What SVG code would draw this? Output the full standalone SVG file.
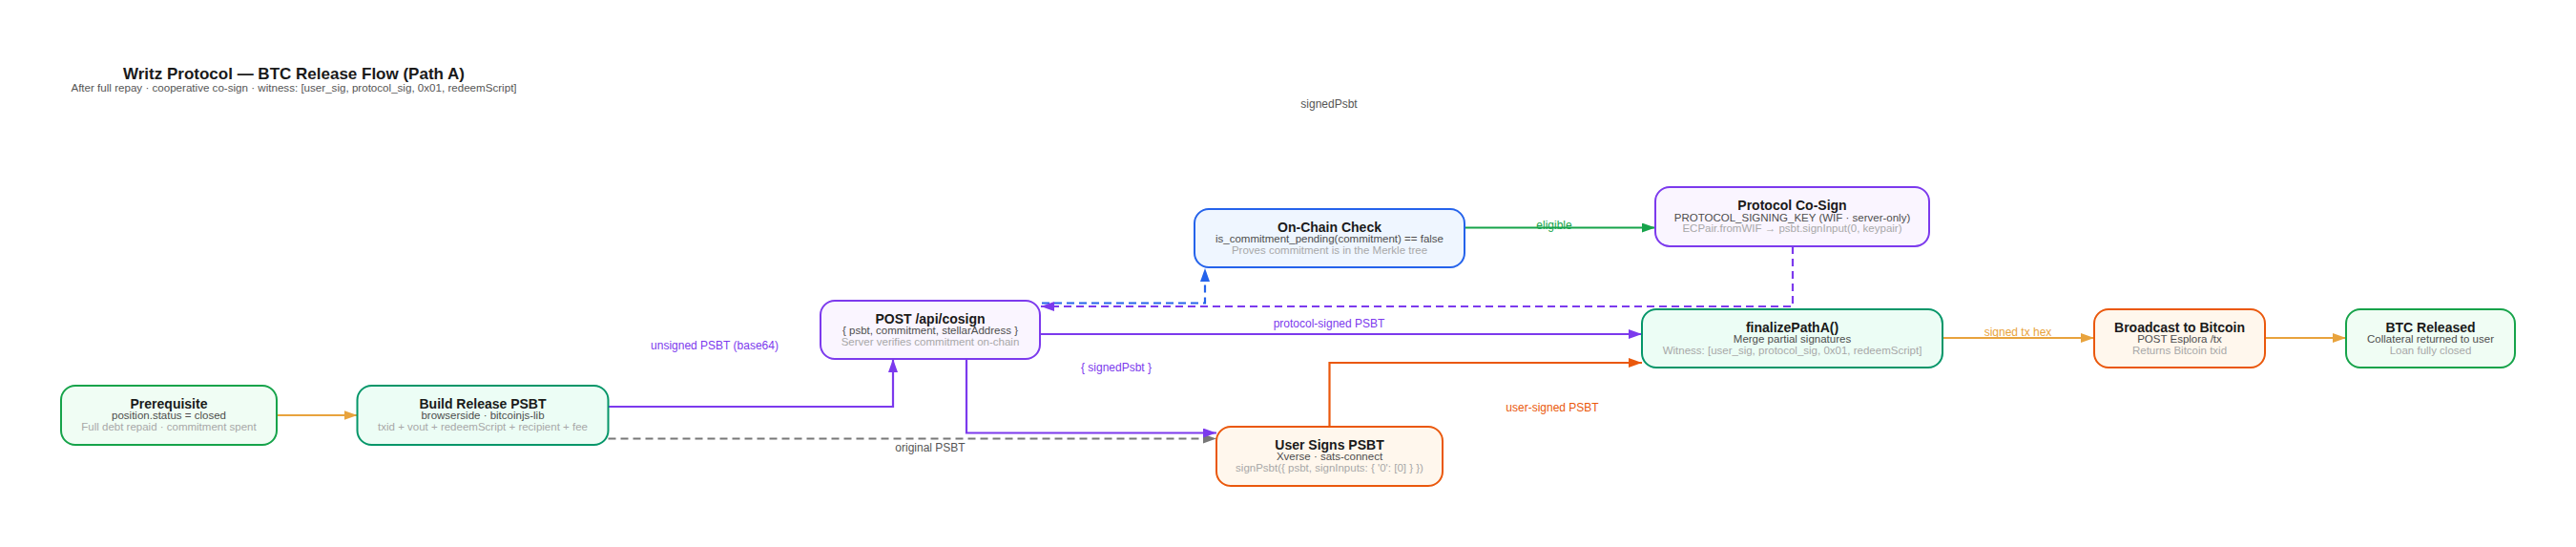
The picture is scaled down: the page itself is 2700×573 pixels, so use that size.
<svg xmlns="http://www.w3.org/2000/svg" width="2700" height="573" viewBox="0 0 2700 573">
  <defs>
    <style>
      text { font-family: "Liberation Sans", Arial, sans-serif; text-anchor: middle; }
      .ttl { font-size: 17px; font-weight: bold; fill: #1a1a1a; }
      .sub { font-size: 11.6px; fill: #555; }
      .nt { font-size: 14px; font-weight: bold; fill: #1a1a1a; }
      .n2 { font-size: 11.5px; fill: #4d4d4d; }
      .n3 { font-size: 11.5px; fill: #a8a8a8; }
      .box { stroke-width: 2; }
      .green { stroke: #16a34a; fill: #f0fdf4; }
      .teal { stroke: #059669; fill: #ecfdf5; }
      .purple { stroke: #7c3aed; fill: #faf5ff; }
      .blue { stroke: #2563eb; fill: #eff6ff; }
      .orange { stroke: #ea580c; fill: #fff7ed; }
      .e { fill: none; stroke-width: 2.2; }
      .dash { stroke-dasharray: 8 5; }
      .lbl { font-size: 12px; }
    </style>
    <marker id="ah-orange" viewBox="0 0 14 10" refX="14" refY="5" markerWidth="14" markerHeight="10" markerUnits="userSpaceOnUse" orient="auto"><path d="M0,0 L14,5 L0,10 z" fill="#e8a33d"/></marker>
    <marker id="ah-red" viewBox="0 0 14 10" refX="14" refY="5" markerWidth="14" markerHeight="10" markerUnits="userSpaceOnUse" orient="auto"><path d="M0,0 L14,5 L0,10 z" fill="#ea580c"/></marker>
    <marker id="ah-purple" viewBox="0 0 14 10" refX="14" refY="5" markerWidth="14" markerHeight="10" markerUnits="userSpaceOnUse" orient="auto"><path d="M0,0 L14,5 L0,10 z" fill="#7c3aed"/></marker>
    <marker id="ah-blue" viewBox="0 0 14 10" refX="14" refY="5" markerWidth="14" markerHeight="10" markerUnits="userSpaceOnUse" orient="auto"><path d="M0,0 L14,5 L0,10 z" fill="#2563eb"/></marker>
    <marker id="ah-green" viewBox="0 0 14 10" refX="14" refY="5" markerWidth="14" markerHeight="10" markerUnits="userSpaceOnUse" orient="auto"><path d="M0,0 L14,5 L0,10 z" fill="#16a34a"/></marker>
    <marker id="ah-gray" viewBox="0 0 14 10" refX="14" refY="5" markerWidth="14" markerHeight="10" markerUnits="userSpaceOnUse" orient="auto"><path d="M0,0 L14,5 L0,10 z" fill="#777"/></marker>
  </defs>

  <rect width="2700" height="573" fill="#ffffff"/>

  <!-- heading -->
  <g id="heading">
    <text class="ttl" x="308" y="83">Writz Protocol — BTC Release Flow (Path A)</text>
    <text class="sub" x="308" y="96">After full repay · cooperative co-sign · witness: [user_sig, protocol_sig, 0x01, redeemScript]</text>
  </g>

  <!-- connectors -->
  <g id="connectors">
    <path class="e" d="M290,435 H374.5" stroke="#e8a33d" stroke-width="2.5" marker-end="url(#ah-orange)"/>
    <path class="e" d="M637.5,426 H936 V376" stroke="#7c3aed" marker-end="url(#ah-purple)"/>
    <text class="lbl" x="749" y="366" fill="#7c3aed">unsigned PSBT (base64)</text>
    <path class="e dash" d="M637.5,459.5 H1275" stroke="#777" marker-end="url(#ah-gray)"/>
    <text class="lbl" x="975" y="473" fill="#555">original PSBT</text>
    <path class="e" d="M1013,376 V453.5 H1275" stroke="#7c3aed" marker-end="url(#ah-purple)"/>
    <text class="lbl" x="1170" y="389" fill="#7c3aed">{ signedPsbt }</text>
    <path class="e dash" d="M1092,317.5 H1263 V281" stroke="#2563eb" marker-end="url(#ah-blue)"/>
    <path class="e dash" d="M1879,258 V321 H1091" stroke="#7c3aed" marker-end="url(#ah-purple)"/>
    <text class="lbl" x="1393" y="113" fill="#555">signedPsbt</text>
    <path class="e" d="M1535,238.5 H1735" stroke="#16a34a" marker-end="url(#ah-green)"/>
    <text class="lbl" x="1629" y="240" fill="#16a34a">eligible</text>
    <path class="e" d="M1090,350 H1721" stroke="#7c3aed" marker-end="url(#ah-purple)"/>
    <text class="lbl" x="1393" y="343" fill="#7c3aed">protocol-signed PSBT</text>
    <path class="e" d="M1393.5,447 V380 H1721" stroke="#ea580c" stroke-width="2.5" marker-end="url(#ah-red)"/>
    <text class="lbl" x="1627" y="431" fill="#ea580c">user-signed PSBT</text>
    <path class="e" d="M2036,354 H2195" stroke="#e8a33d" stroke-width="2.5" marker-end="url(#ah-orange)"/>
    <text class="lbl" x="2115" y="352" fill="#e8a33d">signed tx hex</text>
    <path class="e" d="M2374,354 H2459" stroke="#e8a33d" stroke-width="2.5" marker-end="url(#ah-orange)"/>
  </g>

  <!-- nodes -->
  <g id="prerequisite">
    <rect class="box green" x="64" y="404" width="226" height="62" rx="15"/>
    <text class="nt" x="177" y="427.5">Prerequisite</text>
    <text class="n2" x="177" y="439">position.status = closed</text>
    <text class="n3" x="177" y="450.5">Full debt repaid · commitment spent</text>
  </g>
  <g id="build-release-psbt">
    <rect class="box teal" x="374.5" y="404" width="263" height="62" rx="15"/>
    <text class="nt" x="506" y="427.5">Build Release PSBT</text>
    <text class="n2" x="506" y="439">browserside · bitcoinjs-lib</text>
    <text class="n3" x="506" y="450.5">txid + vout + redeemScript + recipient + fee</text>
  </g>
  <g id="post-cosign">
    <rect class="box purple" x="860" y="315" width="230" height="61" rx="15"/>
    <text class="nt" x="975" y="338.5">POST /api/cosign</text>
    <text class="n2" x="975" y="350">{ psbt, commitment, stellarAddress }</text>
    <text class="n3" x="975" y="361.5">Server verifies commitment on-chain</text>
  </g>
  <g id="user-signs-psbt">
    <rect class="box orange" x="1275" y="447" width="237" height="62" rx="15"/>
    <text class="nt" x="1393.5" y="470.5">User Signs PSBT</text>
    <text class="n2" x="1393.5" y="482">Xverse · sats-connect</text>
    <text class="n3" x="1393.5" y="493.5">signPsbt({ psbt, signInputs: { '0': [0] } })</text>
  </g>
  <g id="on-chain-check">
    <rect class="box blue" x="1252" y="219" width="283" height="61" rx="15"/>
    <text class="nt" x="1393.5" y="242.5">On-Chain Check</text>
    <text class="n2" x="1393.5" y="254">is_commitment_pending(commitment) == false</text>
    <text class="n3" x="1393.5" y="265.5">Proves commitment is in the Merkle tree</text>
  </g>
  <g id="protocol-co-sign">
    <rect class="box purple" x="1735" y="196" width="287" height="62" rx="15"/>
    <text class="nt" x="1878.5" y="219.5">Protocol Co-Sign</text>
    <text class="n2" x="1878.5" y="231.5">PROTOCOL_SIGNING_KEY (WIF · server-only)</text>
    <text class="n3" x="1878.5" y="243">ECPair.fromWIF → psbt.signInput(0, keypair)</text>
  </g>
  <g id="finalize-path-a">
    <rect class="box teal" x="1721" y="324" width="315" height="61" rx="15"/>
    <text class="nt" x="1878.5" y="347.5">finalizePathA()</text>
    <text class="n2" x="1878.5" y="359">Merge partial signatures</text>
    <text class="n3" x="1878.5" y="370.5">Witness: [user_sig, protocol_sig, 0x01, redeemScript]</text>
  </g>
  <g id="broadcast">
    <rect class="box orange" x="2195" y="324" width="179" height="61" rx="15"/>
    <text class="nt" x="2284.5" y="347.5">Broadcast to Bitcoin</text>
    <text class="n2" x="2284.5" y="359">POST Esplora /tx</text>
    <text class="n3" x="2284.5" y="370.5">Returns Bitcoin txid</text>
  </g>
  <g id="btc-released">
    <rect class="box green" x="2459" y="324" width="177" height="61" rx="15"/>
    <text class="nt" x="2547.5" y="347.5">BTC Released</text>
    <text class="n2" x="2547.5" y="359">Collateral returned to user</text>
    <text class="n3" x="2547.5" y="370.5">Loan fully closed</text>
  </g>
</svg>
